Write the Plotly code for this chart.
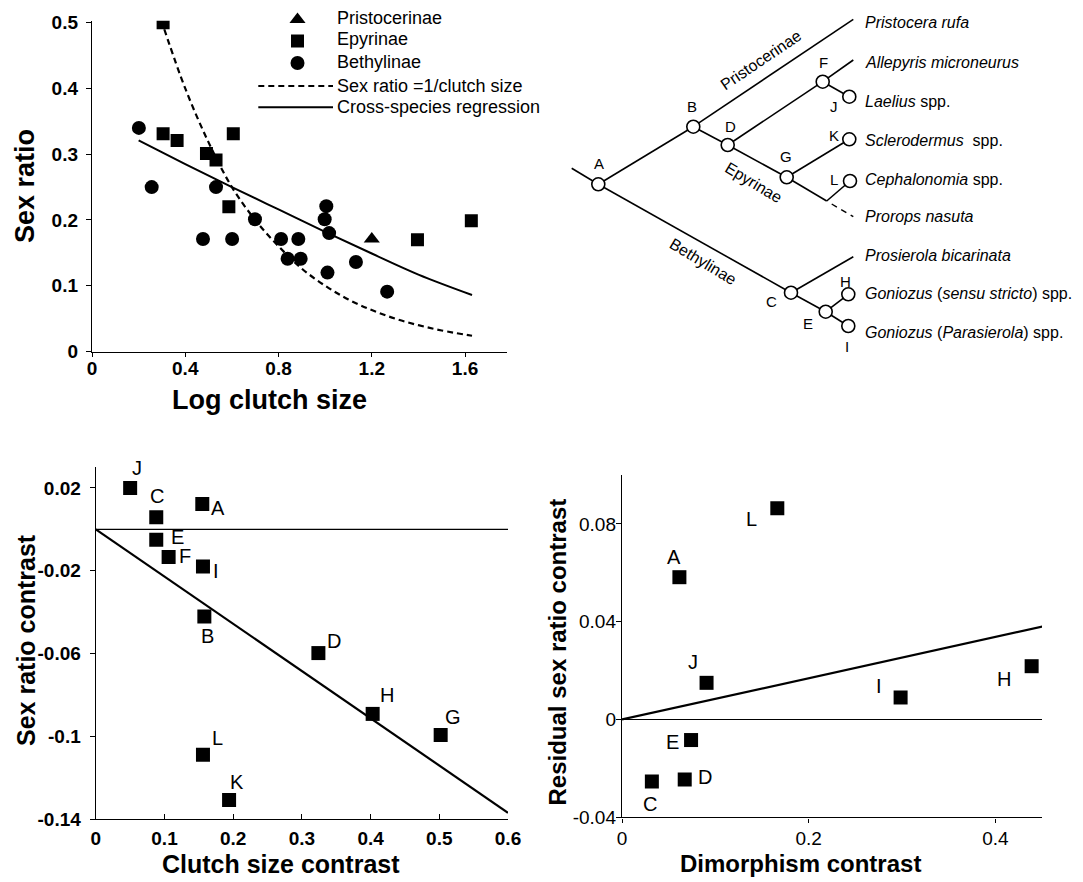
import plotly.graph_objects as go

FONT = "Liberation Sans, Arial, Helvetica, sans-serif"
W, H = 1083, 882
OFF = 8  # the page body adds an 8px margin; compensate so the layout sits where intended

# ---------------- Panel 1: sex ratio vs log clutch size ----------------
pris_x = [1.20]
pris_y = [0.171]
epy_x = [0.305, 0.305, 0.365, 0.491, 0.532, 0.606, 0.587, 1.396, 1.627]
epy_y = [0.500, 0.331, 0.321, 0.301, 0.291, 0.331, 0.220, 0.170, 0.199]
bet_x = [0.201, 0.256, 0.532, 0.476, 0.601, 0.699, 0.811, 0.885, 0.839, 0.895,
         1.005, 0.998, 1.017, 1.010, 1.132, 1.266]
bet_y = [0.340, 0.250, 0.250, 0.171, 0.171, 0.201, 0.171, 0.171, 0.141, 0.141,
         0.221, 0.201, 0.180, 0.120, 0.136, 0.091]
# "Sex ratio = 1/clutch size" curve
inv_x = [0.31, 0.40, 0.50, 0.60, 0.70, 0.80, 0.90, 1.00, 1.10, 1.20, 1.30, 1.40, 1.50, 1.63]
inv_y = [0.490, 0.400, 0.318, 0.250, 0.200, 0.160, 0.126, 0.100, 0.079, 0.063, 0.050, 0.040, 0.032, 0.024]
# cross-species regression curve
reg_x = [0.20, 0.40, 0.60, 0.80, 1.00, 1.20, 1.40, 1.63]
reg_y = [0.321, 0.285, 0.250, 0.216, 0.182, 0.149, 0.117, 0.086]
p1_xticks = [0, 0.4, 0.8, 1.2, 1.6]
p1_xticktext = ["0", "0.4", "0.8", "1.2", "1.6"]
p1_yticks = [0, 0.1, 0.2, 0.3, 0.4, 0.5]
p1_yticktext = ["0", "0.1", "0.2", "0.3", "0.4", "0.5"]
legend_labels = ["Pristocerinae", "Epyrinae", "Bethylinae",
                 "Sex ratio =1/clutch size", "Cross-species regression"]

# ---------------- Panel 3: sex ratio contrast vs clutch size contrast ----------------
cs_labels = ["J", "C", "A", "E", "F", "I", "B", "D", "H", "G", "L", "K"]
cs_x = [0.050, 0.088, 0.155, 0.088, 0.106, 0.156, 0.158, 0.324, 0.403, 0.502, 0.156, 0.194]
cs_y = [0.0200, 0.0058, 0.0123, -0.0050, -0.0134, -0.0179, -0.0421, -0.0598,
        -0.0892, -0.0994, -0.1090, -0.1308]
cs_fit_x = [0.0, 0.6]
cs_fit_y = [0.0, -0.137]
p3_xticks = [0, 0.1, 0.2, 0.3, 0.4, 0.5, 0.6]
p3_xticktext = ["0", "0.1", "0.2", "0.3", "0.4", "0.5", "0.6"]
p3_yticks = [0.02, -0.02, -0.06, -0.1, -0.14]
p3_yticktext = ["0.02", "-0.02", "-0.06", "-0.1", "-0.14"]

# ---------------- Panel 4: residual sex ratio contrast vs dimorphism contrast ----------------
dm_labels = ["L", "A", "J", "I", "H", "E", "D", "C"]
dm_x = [0.1664, 0.0615, 0.0906, 0.2985, 0.4389, 0.0740, 0.0672, 0.0320]
dm_y = [0.0864, 0.0582, 0.0150, 0.0090, 0.0218, -0.0084, -0.0245, -0.0254]
dm_fit_x = [0.0, 0.452]
dm_fit_y = [0.0, 0.0382]
p4_xticks = [0, 0.2, 0.4]
p4_xticktext = ["0", "0.2", "0.4"]
p4_yticks = [-0.04, 0, 0.04, 0.08]
p4_yticktext = ["-0.04", "0", "0.04", "0.08"]

# ---------------- Panel 2: phylogeny (diagram coordinates) ----------------
tree_nodes = {
    "root": (571.7, 168.3), "A": (598.3, 184.3), "B": (693.3, 126.7),
    "D": (727.7, 145.0), "F": (822.7, 81.7), "G": (786.7, 177.3),
    "C": (791.0, 292.7), "E": (825.7, 311.7), "J": (849.3, 96.7),
    "K": (849.3, 139.3), "L": (850.0, 181.0), "H": (848.3, 294.3),
    "I": (848.3, 326.0), "jn": (826.7, 201.0),
    "t_pri": (853.3, 19.3), "t_all": (853.3, 60.0), "t_pros": (853.3, 256.7),
    "t_pror": (853.3, 216.7),
}
tree_edges = [("root", "A"), ("A", "B"), ("B", "t_pri"), ("B", "D"), ("D", "F"),
              ("F", "t_all"), ("F", "J"), ("D", "G"), ("G", "K"), ("G", "jn"),
              ("jn", "L"), ("A", "C"), ("C", "t_pros"), ("C", "E"), ("E", "H"), ("E", "I")]
tree_dashed = [("jn", "t_pror")]
tree_circles = ["A", "B", "C", "D", "E", "F", "G", "H", "I", "J", "K", "L"]
node_label_pos = {
    "A": (599.3, 163.3), "B": (691.7, 106.0), "D": (730.0, 126.7), "F": (823.3, 62.3),
    "J": (834.0, 106.7), "G": (786.0, 156.7), "K": (834.0, 135.0), "L": (834.0, 179.0),
    "C": (771.7, 301.7), "E": (808.3, 323.3), "H": (845.0, 281.7), "I": (847.3, 346.7),
}
species = ["<i>Pristocera rufa</i>", "<i>Allepyris microneurus</i>", "<i>Laelius</i> spp.",
           "<i>Sclerodermus</i>  spp.", "<i>Cephalonomia</i> spp.", "<i>Prorops nasuta</i>",
           "<i>Prosierola bicarinata</i>", "<i>Goniozus</i> (<i>sensu stricto</i>) spp.",
           "<i>Goniozus</i> (<i>Parasierola</i>) spp."]
species_y = [22.7, 62.3, 101.0, 140.0, 179.0, 216.7, 255.0, 293.3, 332.3]
species_x0 = 862.7
clades = [("Pristocerinae", 760.0, 60.0, -34), ("Epyrinae", 753.3, 182.7, 31),
          ("Bethylinae", 703.0, 261.0, 31)]


def px_dom(a, b):
    return [(a - OFF) / W, (b - OFF) / W]


def py_dom(top, bottom):
    return [1 - (bottom - OFF) / H, 1 - (top - OFF) / H]


fig = go.Figure()
BLACK = "black"

# Panel 1 traces
fig.add_trace(go.Scatter(x=inv_x, y=inv_y, mode="lines", xaxis="x", yaxis="y",
                         line=dict(color=BLACK, width=2.2, dash="6px,4px", shape="spline"),
                         hoverinfo="skip"))
fig.add_trace(go.Scatter(x=reg_x, y=reg_y, mode="lines", xaxis="x", yaxis="y",
                         line=dict(color=BLACK, width=2, shape="spline"), hoverinfo="skip"))
fig.add_trace(go.Scatter(x=bet_x, y=bet_y, mode="markers", xaxis="x", yaxis="y",
                         marker=dict(symbol="circle", size=14, color=BLACK)))
fig.add_trace(go.Scatter(x=epy_x, y=epy_y, mode="markers", xaxis="x", yaxis="y",
                         marker=dict(symbol="square", size=13, color=BLACK)))
fig.add_trace(go.Scatter(x=pris_x, y=pris_y, mode="markers", xaxis="x", yaxis="y",
                         marker=dict(symbol="triangle-up", size=14, color=BLACK)))

# Panel 3 traces
fig.add_trace(go.Scatter(x=cs_fit_x, y=cs_fit_y, mode="lines", xaxis="x2", yaxis="y2",
                         line=dict(color=BLACK, width=2.2)))
fig.add_trace(go.Scatter(x=cs_x, y=cs_y, mode="markers", xaxis="x2", yaxis="y2",
                         marker=dict(symbol="square", size=14, color=BLACK)))
# Panel 4 traces
fig.add_trace(go.Scatter(x=dm_fit_x, y=dm_fit_y, mode="lines", xaxis="x3", yaxis="y3",
                         line=dict(color=BLACK, width=2.2)))
fig.add_trace(go.Scatter(x=dm_x, y=dm_y, mode="markers", xaxis="x3", yaxis="y3",
                         marker=dict(symbol="square", size=14, color=BLACK)))

# Phylogeny
for a, b in tree_edges:
    (x0, y0), (x1, y1) = tree_nodes[a], tree_nodes[b]
    fig.add_trace(go.Scatter(x=[x0, x1], y=[y0, y1], mode="lines", xaxis="x4", yaxis="y4",
                             line=dict(color=BLACK, width=1.6), hoverinfo="skip"))
for a, b in tree_dashed:
    (x0, y0), (x1, y1) = tree_nodes[a], tree_nodes[b]
    fig.add_trace(go.Scatter(x=[x0 + 5, x1], y=[y0 + 3, y1], mode="lines", xaxis="x4", yaxis="y4",
                             line=dict(color=BLACK, width=1.4, dash="6px,5px"), hoverinfo="skip"))
fig.add_trace(go.Scatter(x=[tree_nodes[n][0] for n in tree_circles],
                         y=[tree_nodes[n][1] for n in tree_circles],
                         mode="markers", xaxis="x4", yaxis="y4",
                         marker=dict(symbol="circle", size=13, color="white",
                                     line=dict(color=BLACK, width=1.6))))

# Legend of panel 1 (drawn on pixel overlay)
leg_sym_x = 297.5
leg_sym = [("triangle-up", 19.5, 14), ("square", 41.0, 13), ("circle", 63.0, 14)]
for sym, yy, sz in leg_sym:
    fig.add_trace(go.Scatter(x=[leg_sym_x], y=[yy], mode="markers", xaxis="x4", yaxis="y4",
                             marker=dict(symbol=sym, size=sz, color=BLACK)))
fig.add_trace(go.Scatter(x=[258.3, 333], y=[86, 86], mode="lines", xaxis="x4", yaxis="y4",
                         line=dict(color=BLACK, width=2.2, dash="6px,4px")))
fig.add_trace(go.Scatter(x=[258.3, 333], y=[107.3, 107.3], mode="lines", xaxis="x4", yaxis="y4",
                         line=dict(color=BLACK, width=2)))

ann = []
leg_text_y = [18.3, 39.3, 61.7, 86.0, 107.3]
for t, yy in zip(legend_labels, leg_text_y):
    ann.append(dict(x=335, y=yy, xref="x4", yref="y4", text=t, showarrow=False,
                    xanchor="left", yanchor="middle", font=dict(family=FONT, size=18, color=BLACK)))

for t, yy in zip(species, species_y):
    ann.append(dict(x=species_x0, y=yy, xref="x4", yref="y4", text=t, showarrow=False,
                    xanchor="left", yanchor="middle", font=dict(family=FONT, size=16, color=BLACK)))
for n, (xx, yy) in node_label_pos.items():
    ann.append(dict(x=xx, y=yy, xref="x4", yref="y4", text=n, showarrow=False,
                    xanchor="center", yanchor="middle", font=dict(family=FONT, size=15, color=BLACK)))
for t, xx, yy, ang in clades:
    ann.append(dict(x=xx, y=yy, xref="x4", yref="y4", text=t, showarrow=False, textangle=ang,
                    xanchor="center", yanchor="middle", font=dict(family=FONT, size=16, color=BLACK)))

# point labels
cs_off = [(7, -20), (1, -21), (16, 4), (21, -3), (16, -1), (13, 5), (3, 20), (16, -12),
          (14, -19), (12, -18), (15, -17), (8, -18)]
for t, xx, yy, (dx, dy) in zip(cs_labels, cs_x, cs_y, cs_off):
    ann.append(dict(x=xx, y=yy, xref="x2", yref="y2", text=t, showarrow=False,
                    xshift=dx, yshift=-dy, font=dict(family=FONT, size=20, color=BLACK)))
dm_off = [(-26, 11), (-5, -20), (-14, -21), (-22, -11), (-28, 13), (-19, 2), (20, -2), (-2, 22)]
for t, xx, yy, (dx, dy) in zip(dm_labels, dm_x, dm_y, dm_off):
    ann.append(dict(x=xx, y=yy, xref="x3", yref="y3", text=t, showarrow=False,
                    xshift=dx, yshift=-dy, font=dict(family=FONT, size=20, color=BLACK)))

# axis titles
titles = [("Sex ratio", 25, 186, -90, 27), ("Log clutch size", 269, 400, 0, 27),
          ("Sex ratio contrast", 26, 640, -90, 25), ("Clutch size contrast", 281, 864, 0, 25),
          ("Residual sex ratio contrast", 556.5, 652, -90, 24), ("Dimorphism contrast", 800, 863, 0, 24)]
for t, xx, yy, ang, fs in titles:
    ann.append(dict(x=xx, y=yy, xref="x4", yref="y4", text="<b>%s</b>" % t, showarrow=False,
                    textangle=ang, xanchor="center", yanchor="middle",
                    font=dict(family=FONT, size=fs, color=BLACK)))

shapes = [
    dict(type="line", xref="x2", yref="y2", x0=0, x1=0.6, y0=0, y1=0, line=dict(color=BLACK, width=1.2)),
    dict(type="line", xref="x3", yref="y3", x0=0, x1=0.45, y0=0, y1=0, line=dict(color=BLACK, width=1.2)),
]


def axis(domain, rng, tickvals, ticktext, ticks, anchor, bold=False, standoff=None, ticklen=5):
    d = dict(domain=domain, range=rng, tickvals=tickvals, ticktext=ticktext, ticks=ticks,
             ticklen=ticklen, tickwidth=1.3, tickcolor=BLACK, showline=True, linecolor=BLACK,
             linewidth=1.4, showgrid=False, zeroline=False, anchor=anchor, fixedrange=True,
             automargin=False,
             tickfont=dict(family=FONT, size=19, color=BLACK, weight="bold" if bold else "normal"))
    if standoff is not None:
        d["ticklabelstandoff"] = standoff
    return d


fig.update_layout(
    template="none",
    width=W, height=H, margin=dict(l=0, r=0, t=0, b=0, autoexpand=False),
    paper_bgcolor="white", plot_bgcolor="rgba(0,0,0,0)", showlegend=False,
    xaxis=axis(px_dom(92, 507), [0, 1.78], p1_xticks, p1_xticktext, "outside", "y", True, -5, 4),
    yaxis=axis(py_dom(20.7, 351.5), [0, 0.503], p1_yticks, p1_yticktext, "outside", "x", True, 4, 5),
    xaxis2=axis(px_dom(95.8, 508), [0, 0.6], p3_xticks, p3_xticktext, "inside", "y2", True, 2, 5),
    yaxis2=axis(py_dom(467.3, 819), [-0.14, 0.03], p3_yticks, p3_yticktext, "outside", "x2", True, 5, 5),
    xaxis3=axis(px_dom(622, 1042), [0, 0.45], p4_xticks, p4_xticktext, "outside", "y3", False, 0, 4),
    yaxis3=axis(py_dom(475, 817.3), [-0.04, 0.1], p4_yticks, p4_yticktext, "outside", "x3", False, -4, 5),
    xaxis4=dict(domain=[0, 1], range=[OFF, W + OFF], visible=False, anchor="y4", fixedrange=True),
    yaxis4=dict(domain=[0, 1], range=[H + OFF, OFF], visible=False, anchor="x4", fixedrange=True),
    annotations=ann, shapes=shapes,
)

fig.write_html("out.html")
